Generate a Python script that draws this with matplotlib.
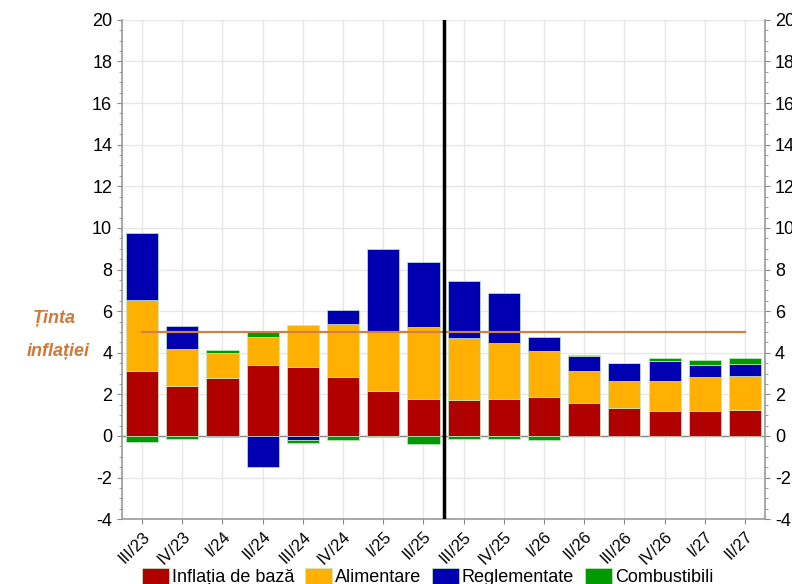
import numpy as np
import matplotlib
matplotlib.use('Agg')
import matplotlib.pyplot as plt
from matplotlib.ticker import MultipleLocator

plt.rcParams['font.family'] = ['Liberation Sans', 'DejaVu Sans']
plt.rcParams['axes.unicode_minus'] = False

# Quarters
labels = ['III/23', 'IV/23', 'I/24', 'II/24', 'III/24', 'IV/24', 'I/25', 'II/25',
          'III/25', 'IV/25', 'I/26', 'II/26', 'III/26', 'IV/26', 'I/27', 'II/27']

# Contributions (pp)
core = [3.12, 2.39, 2.77, 3.40, 3.32, 2.85, 2.18, 1.79,
        1.73, 1.78, 1.86, 1.60, 1.33, 1.22, 1.20, 1.26]
food = [3.43, 1.78, 1.23, 1.34, 2.03, 2.55, 2.88, 3.43,
        2.99, 2.67, 2.22, 1.50, 1.29, 1.44, 1.62, 1.60]
regulated = [3.21, 1.10, -0.05, -1.47, -0.20, 0.64, 3.93, 3.15,
             2.72, 2.43, 0.67, 0.72, 0.88, 0.96, 0.57, 0.58]
fuel = [-0.30, -0.13, 0.12, 0.32, -0.16, -0.19, -0.06, -0.40,
        -0.16, -0.13, -0.19, 0.07, 0.02, 0.11, 0.24, 0.29]

target = 5.0

colors = ['#B00000', '#FFB000', '#0000B0', '#009A00']
names = ['Inflația de bază', 'Alimentare', 'Reglementate', 'Combustibili']

fig = plt.figure(figsize=(7.92, 5.84), dpi=100)
ax = fig.add_axes([0.154, 0.111, 0.812, 0.855])

x = np.arange(len(labels))
pos_base = np.zeros(len(labels))
neg_base = np.zeros(len(labels))
for series, col, name in zip([core, food, regulated, fuel], colors, names):
    v = np.array(series)
    bottom = np.where(v >= 0, pos_base, neg_base)
    ax.bar(x, v, 0.8, bottom=bottom, color=col, label=name,
           edgecolor='#c8e8c8', linewidth=0.5, zorder=3)
    pos_base += np.where(v >= 0, v, 0)
    neg_base += np.where(v < 0, v, 0)

# Inflation target line
ax.plot([x[0], x[-1]], [target, target], color='#D08040', lw=1.6, zorder=4)
ax.axvline(7.5, color='black', lw=2.5, zorder=5)
ax.axhline(0, color='#888888', lw=1, zorder=2)

ax.set_xlim(-0.5, len(labels) - 0.5)
ax.set_ylim(-4, 20)
ax.yaxis.set_major_locator(MultipleLocator(2))
ax.yaxis.set_minor_locator(MultipleLocator(0.5))
ax.set_xticks(x)
ax.set_xticklabels(labels, rotation=45, ha='right', rotation_mode='anchor', fontsize=12)
ax.tick_params(axis='y', labelsize=13, right=True, labelright=True, color='#888888')
ax.tick_params(axis='y', which='minor', right=True, color='#888888')
ax.tick_params(axis='x', color='#888888')
ax.grid(True, color='#e6e6e6', lw=1, zorder=0)
ax.spines['top'].set_visible(False)
for s in ['left', 'right', 'bottom']:
    ax.spines[s].set_color('#999999')
    ax.spines[s].set_linewidth(1.2)

fig.text(0.068, 0.455, 'Ținta', color='#D07838', fontsize=13, fontweight='bold',
         style='italic', ha='center', va='center')
fig.text(0.073, 0.398, 'inflației', color='#D07838', fontsize=13, fontweight='bold',
         style='italic', ha='center', va='center')

fig.legend(loc='center', bbox_to_anchor=(0.54, 0.012), ncol=4, frameon=False,
           fontsize=13, handlelength=1.5, handleheight=1.1, handletextpad=0.15,
           columnspacing=0.6)

fig.savefig('out.png', dpi=100)
